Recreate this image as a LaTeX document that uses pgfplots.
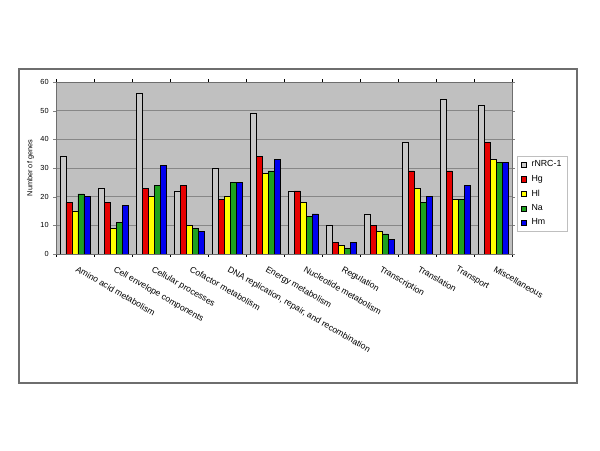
\documentclass[border=0pt]{standalone}
\usepackage{fontspec}
\setmainfont{Liberation Sans}
\usepackage{pgfplots}
\usepackage{pgfplotstable}
\pgfplotsset{compat=1.18}

\definecolor{plotbg}{RGB}{192,192,192}
\definecolor{gridgray}{RGB}{135,135,135}
\definecolor{framegray}{RGB}{110,110,110}
\definecolor{cNRC}{RGB}{200,200,200}
\definecolor{cHg}{RGB}{230,0,0}
\definecolor{cHl}{RGB}{255,255,0}
\definecolor{cNa}{RGB}{30,160,30}
\definecolor{cHm}{RGB}{0,0,240}

% groups at 0..11, one column per strain
\pgfplotstableread{
x rnrc hg hl na hm
0  34 18 15 21 20
1  23 18  9 11 17
2  56 23 20 24 31
3  22 24 10  9  8
4  30 19 20 25 25
5  49 34 28 29 33
6  22 22 18 13 14
7  10  4  3  2  4
8  14 10  8  7  5
9  39 29 23 18 20
10 54 29 19 19 24
11 52 39 33 32 32
}\genetable

\pgfplotsset{
  sq legend/.style={legend image code/.code={
    \draw[##1, draw=black, line width=0.4pt] (0pt,-2pt) rectangle (4pt,2pt);}},
}

\begin{document}
\begin{tikzpicture}
% page is 600x450 px at 0.75pt per px
\path (0pt,0pt) rectangle (450pt,337.5pt);
\draw[framegray, line width=1.1pt] (14.25pt,50.25pt) rectangle (432.75pt,285.75pt);
\begin{axis}[
  at={(42pt,147pt)}, anchor=south west,
  scale only axis,
  width=342pt, height=129pt,
  ybar=0pt, bar width=4.5pt,
  xmin=-0.5, xmax=11.5,
  ymin=0, ymax=60,
  ytick={0,10,...,60},
  xtick={0,...,11},
  xticklabels={Amino acid metabolism, Cell envelope components, Cellular processes,
    Cofactor metabolism, {DNA replication, repair, and recombination},
    Energy metabolism, Nucleotide metabolism, Regulation, Transcription,
    Translation, Transport, Miscellaneous},
  xticklabel style={rotate=-30, anchor=north west, font=\fontsize{6.5}{7.5}\selectfont,
    xshift=2pt, yshift=-1pt},
  major x tick style={draw=none},
  minor xtick={-0.5,0.5,...,11.5},
  minor x tick style={draw=black, line width=0.4pt},
  minor tick length=2pt,
  tick align=outside,
  major tick length=2pt,
  yticklabel style={font=\fontsize{5.5}{6.5}\selectfont},
  /pgf/number format/assume math mode=true,
  ymajorgrids,
  grid style={gridgray, line width=0.5pt},
  axis background/.style={fill=plotbg},
  axis line style={framegray, line width=0.6pt},
  ylabel={Number of genes},
  ylabel style={font=\fontsize{5.5}{6.5}\selectfont, yshift=-2pt},
  legend style={at={(1.012,0.35)}, anchor=west,
    font=\fontsize{6.6}{7.2}\selectfont, draw=gray!50, line width=0.4pt,
    inner xsep=2.5pt, inner ysep=1.5pt, row sep=0.8pt, fill=white,
    /tikz/every odd column/.style={column sep=1.5pt}},
  legend cell align=left,
]
\addplot[fill=cNRC, draw=black, line width=0.4pt, sq legend] table[x=x, y=rnrc] {\genetable};
\addplot[fill=cHg, draw=black, line width=0.4pt, sq legend] table[x=x, y=hg] {\genetable};
\addplot[fill=cHl, draw=black, line width=0.4pt, sq legend] table[x=x, y=hl] {\genetable};
\addplot[fill=cNa, draw=black, line width=0.4pt, sq legend] table[x=x, y=na] {\genetable};
\addplot[fill=cHm, draw=black, line width=0.4pt, sq legend] table[x=x, y=hm] {\genetable};
\legend{rNRC-1, Hg, Hl, Na, Hm}
\end{axis}
\end{tikzpicture}
\end{document}
